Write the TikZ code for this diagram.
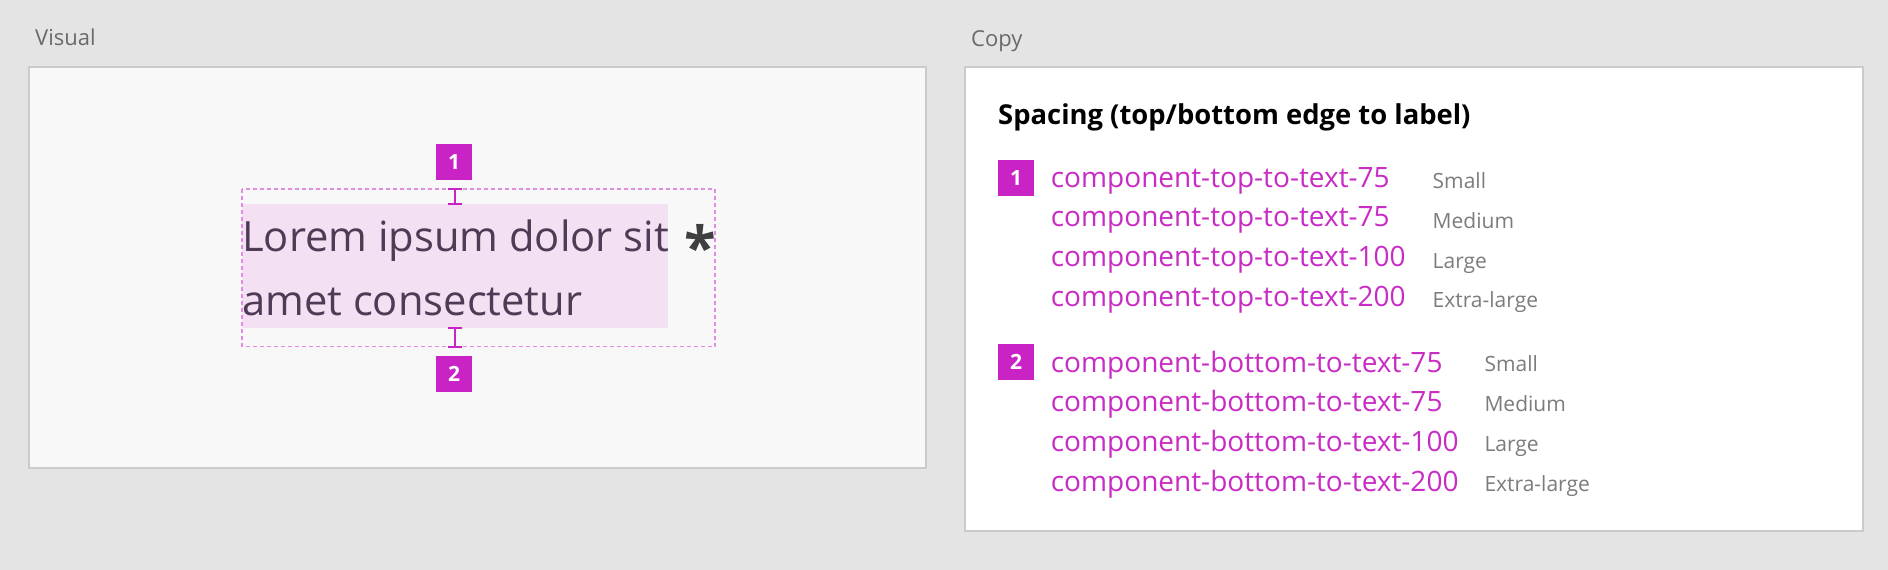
\documentclass[tikz,border=0pt]{standalone}
\usepackage{fontspec}
\setmainfont{Open Sans}
\definecolor{bgc}{HTML}{E4E4E4}
\definecolor{panelborder}{HTML}{CBCBCB}
\definecolor{visfill}{HTML}{F8F8F8}
\definecolor{magenta}{HTML}{C923C5}
\definecolor{tokenc}{HTML}{C82CC4}
\definecolor{hlc}{HTML}{F3E1F3}
\definecolor{dashc}{HTML}{E38BE0}
\definecolor{loremc}{HTML}{4F3B55}
\definecolor{starc}{HTML}{3F3F3F}
\definecolor{sizec}{HTML}{7C7C7C}
\definecolor{lblc}{HTML}{6A6A6A}
\begin{document}
\begin{tikzpicture}[x=1pt,y=-1pt,
  sectionlbl/.style={anchor=base west,inner sep=0pt,text=lblc,font=\fontsize{22}{26}\selectfont},
  panelbox/.style={draw=panelborder,line width=2pt},
  badge/.style={fill=magenta,text=white,minimum size=36pt,inner sep=0pt,font=\fontsize{21}{24}\selectfont\bfseries},
  lorem/.style={anchor=base west,inner sep=0pt,text=loremc,font=\fontsize{41.7}{50}\selectfont},
  token/.style={anchor=base west,inner sep=0pt,text=tokenc,font=\fontsize{28}{32}\selectfont},
  sizelbl/.style={anchor=base west,inner sep=0pt,text=sizec,font=\fontsize{21}{24}\selectfont},
  ibar/.style={draw=magenta,line width=2pt},
  dashbox/.style={draw=dashc,line width=1.3pt,dash pattern=on 4pt off 3pt}]
\useasboundingbox (0,0) rectangle (1888,570);
\fill[bgc] (0,0) rectangle (1888,570);
% labels
\node[sectionlbl] (vislbl) at (35,45.5) {Visual};
\node[sectionlbl] (copylbl) at (971,46.5) {Copy};
% panels
\draw[panelbox,fill=visfill] (29,67) rectangle (926,468);
\draw[panelbox,fill=white] (965,67) rectangle (1863,531);
% visual
\fill[hlc] (242,204) rectangle (667.5,327.5);
\draw[dashbox] (242,189) rectangle (715,346.5);
\coordinate (dtop) at (455,189);
\coordinate (htop) at (455,204);
\coordinate (hbot) at (455,327.5);
\coordinate (dbot) at (455,346.5);
\node[lorem] (line1) at (242,251.7) {Lorem ipsum dolor sit};
\node[lorem] (line2) at (242,315) {amet consectetur};
\node[inner sep=0pt,text=starc,font=\fontsize{58}{60}\selectfont\bfseries] (star) at (700,246) {*};
\draw[ibar] (dtop) -- (htop);
\draw[ibar] ([xshift=-7pt]dtop) -- ([xshift=7pt]dtop);
\draw[ibar] ([xshift=-7pt]htop) -- ([xshift=7pt]htop);
\draw[ibar] (hbot) -- (dbot);
\draw[ibar] ([xshift=-7pt]hbot) -- ([xshift=7pt]hbot);
\draw[ibar] ([xshift=-7pt]dbot) -- ([xshift=7pt]dbot);
\node[badge] (v1) at (454,162) {1};
\node[badge] (v2) at (454,374) {2};
% copy
\node[anchor=base west,inner sep=0pt,font=\fontsize{27.4}{32}\selectfont\bfseries] (title) at (998,124) {Spacing (top/bottom edge to label)};
\node[badge] (c1) at (1016,178) {1};
\node[badge] (c2) at (1016,362) {2};
\node[token] (t1) at (1050.7,187.3) {component-top-to-text-75};
\node[token] (t2) at (1050.7,226.7) {component-top-to-text-75};
\node[token] (t3) at (1050.7,266.7) {component-top-to-text-100};
\node[token] (t4) at (1050.7,306.5) {component-top-to-text-200};
\node[sizelbl] (s1) at (1432.5,188.3) {Small};
\node[sizelbl] (s2) at (1432.5,228.3) {Medium};
\node[sizelbl] (s3) at (1432.5,268.3) {Large};
\node[sizelbl] (s4) at (1432.5,307.3) {Extra-large};
\node[token] (u1) at (1050.7,372.2) {component-bottom-to-text-75};
\node[token] (u2) at (1050.7,411.7) {component-bottom-to-text-75};
\node[token] (u3) at (1050.7,451.7) {component-bottom-to-text-100};
\node[token] (u4) at (1050.7,491.7) {component-bottom-to-text-200};
\node[sizelbl] (r1) at (1484.3,371.7) {Small};
\node[sizelbl] (r2) at (1484.3,411.7) {Medium};
\node[sizelbl] (r3) at (1484.3,451.7) {Large};
\node[sizelbl] (r4) at (1484.3,491.7) {Extra-large};
\end{tikzpicture}
\end{document}
